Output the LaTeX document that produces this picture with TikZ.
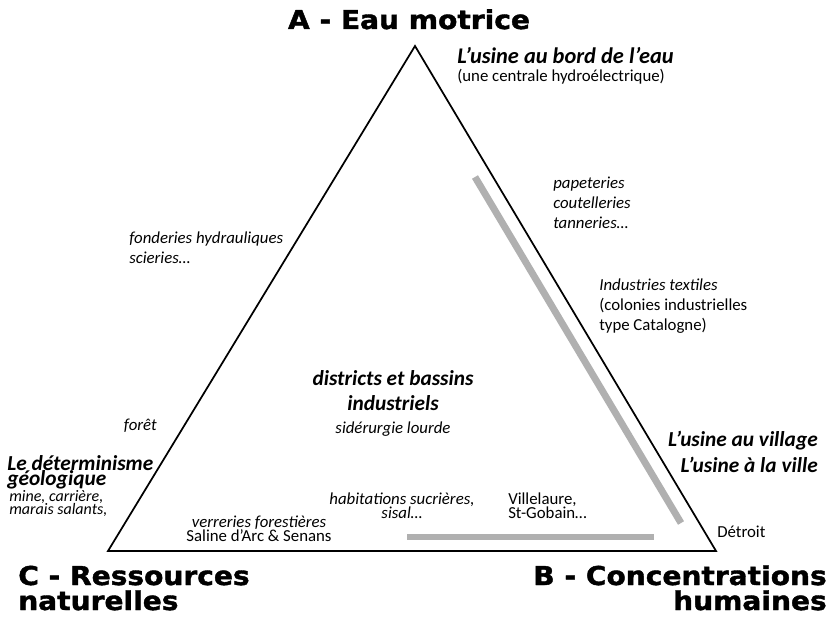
\documentclass[tikz,border=0pt]{standalone}
\usepackage{fontspec}
\setmainfont{Carlito}
\newfontfamily\heavy{DejaVu Sans Bold}[FakeStretch=1.08,FakeBold=1.5]
\definecolor{barg}{HTML}{B0B0B0}
\tikzset{
  tri/.style={draw=black, line width=1.3pt},
  grbar/.style={draw=barg, line width=5.2pt},
  ttl/.style={inner sep=0, font=\fontsize{19.5}{22}\heavy},
  bi/.style={inner sep=0, font=\fontsize{16}{18}\selectfont\bfseries\itshape},
  it/.style={inner sep=0, font=\fontsize{12.6}{14}\selectfont\itshape},
  up/.style={inner sep=0, font=\fontsize{12.6}{14}\selectfont},
  sm/.style={inner sep=0, font=\fontsize{12}{13}\selectfont\itshape},
}
\begin{document}
\begin{tikzpicture}[x=0.75pt,y=-0.75pt]
\useasboundingbox[fill=white] (0,0) rectangle (832,620);
% triangle
\coordinate (A) at (415,46);
\coordinate (B) at (716,551);
\coordinate (C) at (108,551);
\draw[tri] (A) -- (B) -- (C) -- cycle;
% gray bars
\coordinate (g1) at (475,177);
\coordinate (g2) at (681,523);
\coordinate (g3) at (407,537);
\coordinate (g4) at (654,537);
\draw[grbar] (g1) -- (g2);
\draw[grbar] (g3) -- (g4);
% titles
\node[ttl, anchor=base] (tA) at (409,29) {A - Eau motrice};
\node[ttl, anchor=base west] (tC1) at (18,585) {C - Ressources};
\node[ttl, anchor=base west] (tC2) at (18,610) {naturelles};
\node[ttl, anchor=base east] (tB1) at (827,585) {B - Concentrations};
\node[ttl, anchor=base east] (tB2) at (827,610) {humaines};
% top right
\node[bi, anchor=base west, font=\fontsize{16.8}{19}\selectfont\bfseries\itshape] (u1) at (457,64) {L’usine au bord de l’eau};
\node[up, anchor=base west] (u2) at (457,82) {(une centrale hydroélectrique)};
\node[it, anchor=base west] (p1) at (553,189) {papeteries};
\node[it, anchor=base west] (p2) at (553,209) {coutelleries};
\node[it, anchor=base west] (p3) at (553,229) {tanneries…};
\node[it, anchor=base west] (t1) at (599,291) {Industries textiles};
\node[up, anchor=base west] (t2) at (599,311) {(colonies industrielles};
\node[up, anchor=base west] (t3) at (599,331) {type Catalogne)};
% left side
\node[it, anchor=base west] (f1) at (129,244) {fonderies hydrauliques};
\node[it, anchor=base west] (f2) at (129,264) {scieries…};
\node[it, anchor=base east] (fo) at (157,430) {forêt};
\node[bi, anchor=base west] (d1) at (7,470) {Le déterminisme};
\node[bi, anchor=base west] (d2) at (7,485) {géologique};
\node[sm, anchor=base west] (m1) at (9,501) {mine, carrière,};
\node[sm, anchor=base west] (m2) at (9,514) {marais salants,};
% center
\node[bi, anchor=base] (c1) at (393,385) {districts et bassins};
\node[bi, anchor=base] (c2) at (393,410) {industriels};
\node[it, anchor=base] (c3) at (393,433) {sidérurgie lourde};
% right
\node[bi, anchor=base east] (v1) at (818,446) {L’usine au village};
\node[bi, anchor=base east] (v2) at (818,472) {L’usine à la ville};
% bottom
\node[it, anchor=base] (b1) at (259,527) {verreries forestières};
\node[up, anchor=base] (b2) at (259,541) {Saline d’Arc \& Senans};
\node[it, anchor=base] (h1) at (402,504) {habitations sucrières,};
\node[it, anchor=base] (h2) at (402,518) {sisal…};
\node[up, anchor=base west] (s1) at (508,504) {Villelaure,};
\node[up, anchor=base west] (s2) at (508,518) {St-Gobain…};
\node[up, anchor=base west] (de) at (717,537) {Détroit};
\end{tikzpicture}
\end{document}
